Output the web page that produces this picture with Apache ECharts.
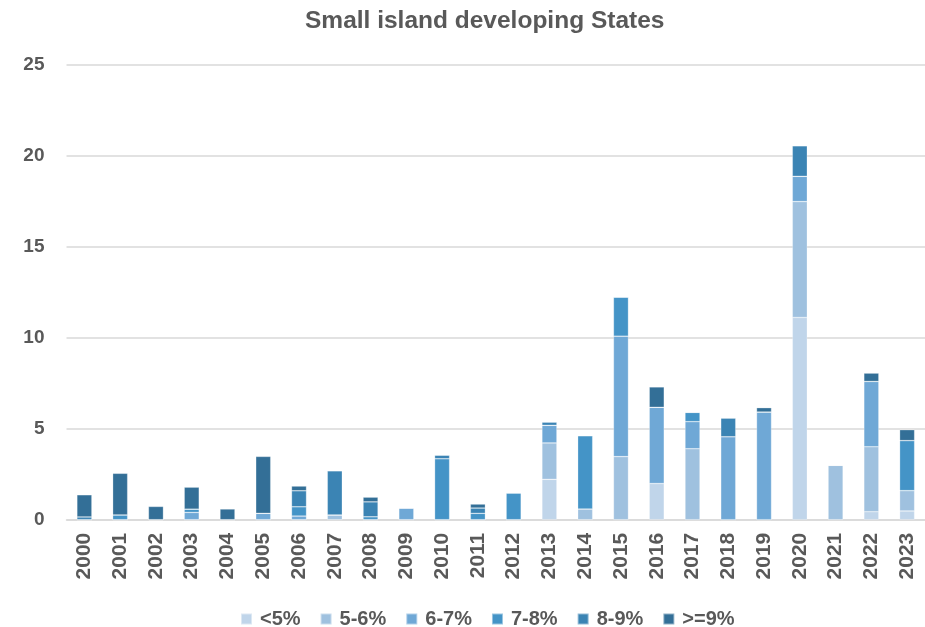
<!DOCTYPE html>
<html>
<head>
<meta charset="utf-8">
<script src="https://cdn.jsdelivr.net/npm/echarts@6/dist/echarts.min.js"></script>
<style>
  html, body { margin: 0; padding: 0; background: #ffffff; }
  #chart { width: 925px; height: 627px; }
</style>
</head>
<body>
<div id="chart"></div>
<script>
// Years on the category axis
const years = ['2000','2001','2002','2003','2004','2005','2006','2007','2008','2009','2010','2011',
               '2012','2013','2014','2015','2016','2017','2018','2019','2020','2021','2022','2023'];

// Stacked values per rate band
const bandLt5  = [0,0,0,0,0,0,0,0,0,0,0,0, 0,2.22,0,0,1.99,0,0,0,11.12,0,0.44,0.48];
const band5to6 = [0,0,0,0,0,0,0,0.26,0,0,0,0, 0,2.00,0.59,3.47,0,3.90,0,0,6.37,2.99,3.57,1.12];
const band6to7 = [0,0,0,0.40,0,0.35,0.20,0,0,0.64,0,0, 0,0.97,0,6.62,4.19,1.49,4.56,5.92,1.39,0,3.59,0];
const band7to8 = [0,0.26,0,0.18,0,0,0.51,0,0.16,0,3.35,0.35, 1.47,0,4.03,2.15,0,0.51,0,0,0,0,0,2.75];
const band8to9 = [0.15,0,0,0,0,0,0.88,2.43,0.82,0,0.20,0.29, 0,0.18,0,0,0,0,1.03,0,1.68,0,0,0];
const bandGe9  = [1.22,2.29,0.73,1.21,0.59,3.13,0.26,0,0.26,0,0,0.22, 0,0,0,0,1.12,0,0,0.24,0,0,0.46,0.60];

// Tick labels for the value axis
const yTicks = [0, 5, 10, 15, 20, 25];

const bands = [
  { name: '<5%',  data: bandLt5,  color: '#c0d5ea' },
  { name: '5-6%', data: band5to6, color: '#9fc1df' },
  { name: '6-7%', data: band6to7, color: '#6fa8d6' },
  { name: '7-8%', data: band7to8, color: '#4494c7' },
  { name: '8-9%', data: band8to9, color: '#3b84b4' },
  { name: '>=9%', data: bandGe9,  color: '#336f97' }
];

const textGrey = '#595959';
const labelFont = "'Liberation Sans', Arial, sans-serif";
const chart = echarts.init(document.getElementById('chart'));

chart.setOption({
  backgroundColor: '#ffffff',
  animation: false,
  title: {
    text: 'Small island developing States',
    left: 300,
    top: 4,
    textStyle: {
      fontFamily: labelFont,
      fontSize: 24.5,
      fontWeight: 'bold',
      color: textGrey
    }
  },
  legend: {
    top: 604,
    left: 235,
    itemWidth: 11,
    itemHeight: 11,
    itemGap: 19,
    icon: 'rect',
    textStyle: {
      fontFamily: labelFont,
      fontSize: 20,
      fontWeight: 'bold',
      color: textGrey,
      padding: [0, 0, 0, 3]
    },
    data: bands.map(b => b.name)
  },
  grid: {
    left: 66.5,
    width: 862,
    top: 65,
    bottom: 107.3,
    containLabel: false
  },
  xAxis: {
    type: 'category',
    data: years,
    axisTick: { show: false },
    axisLine: { show: true, lineStyle: { color: '#d9d9d9', width: 1.5 } },
    axisLabel: {
      rotate: 90,
      margin: 13,
      fontFamily: labelFont,
      fontSize: 21,
      fontWeight: 'bold',
      color: textGrey
    }
  },
  yAxis: {
    type: 'value',
    min: yTicks[0],
    max: yTicks[yTicks.length - 1],
    interval: 5,
    axisLine: { show: false },
    axisTick: { show: false },
    splitLine: { lineStyle: { color: '#d9d9d9', width: 1.5 } },
    axisLabel: {
      margin: 22,
      fontFamily: labelFont,
      fontSize: 19,
      fontWeight: 'bold',
      color: textGrey
    }
  },
  series: bands.map(b => ({
    name: b.name,
    type: 'bar',
    stack: 'total',
    barWidth: 15,
    data: b.data,
    itemStyle: {
      color: b.color,
      borderColor: 'rgba(255,255,255,0.45)',
      borderWidth: 0.6
    }
  }))
});
</script>
</body>
</html>
